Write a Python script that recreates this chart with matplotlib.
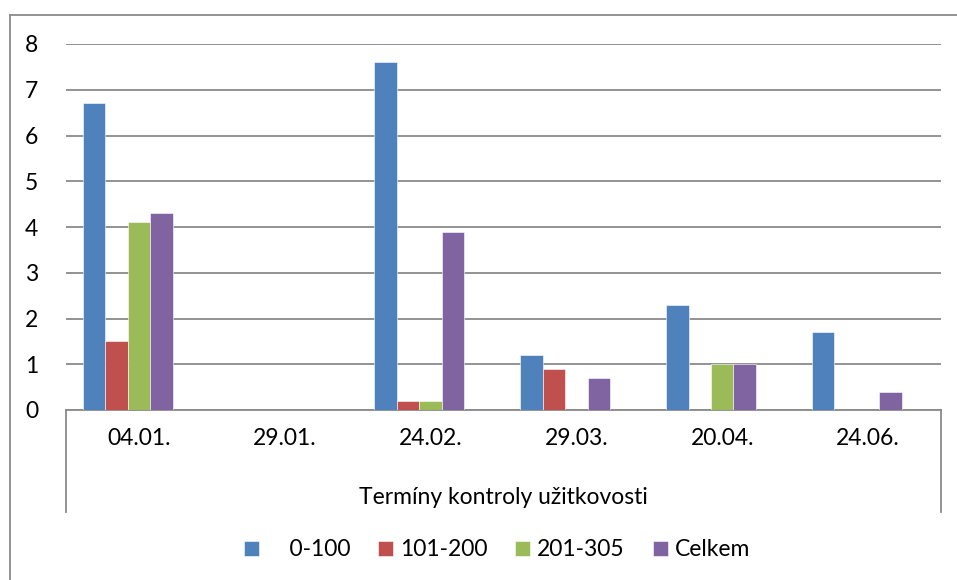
import numpy as np
import matplotlib.pyplot as plt
from matplotlib.lines import Line2D

plt.rcParams['font.family'] = ['Lato', 'DejaVu Sans']

dates = ["04.01.", "29.01.", "24.02.", "29.03.", "20.04.", "24.06."]
series_names = ["0-100", "101-200", "201-305", "Celkem"]
s_0_100 = [6.7, 0, 7.6, 1.2, 2.3, 1.7]
s_101_200 = [1.5, 0, 0.2, 0.9, 0, 0]
s_201_305 = [4.1, 0, 0.2, 0, 1.0, 0]
s_celkem = [4.3, 0, 3.9, 0.7, 1.0, 0.4]
colors = ["#4F81BD", "#C0504D", "#9BBB59", "#8064A2"]
grid_c = "#8a8a8a"

W, H = 957, 580
fig = plt.figure(figsize=(W / 100, H / 100), dpi=100)
ax = fig.add_axes([66 / W, 1 - 410 / H, (941 - 66) / W, (410 - 44) / H])

x = np.arange(len(dates))
w = 1 / 6.5  # 5 slots (one empty series) + 150 % gap
for i, (vals, c, name) in enumerate(zip([s_0_100, s_101_200, s_201_305, s_celkem], colors, series_names)):
    lbl = "    " + name if i == 0 else name
    ax.bar(x + (i - 2) * w, vals, width=w, color=c, label=lbl,
           edgecolor="white", linewidth=0.4, zorder=3)

ax.set_xlim(-0.5, len(dates) - 0.5)
ax.set_ylim(0, 8)
ax.set_yticks(range(0, 9))
ax.yaxis.grid(True, color=grid_c, linewidth=1.3)
ax.set_axisbelow(True)
for s in ["left", "right", "top"]:
    ax.spines[s].set_visible(False)
ax.spines["bottom"].set_color(grid_c)
ax.spines["bottom"].set_linewidth(1.3)
ax.tick_params(axis="y", length=0, pad=20, labelsize=16.5)
ax.tick_params(axis="x", length=0, pad=13, labelsize=16.5)
ax.set_xticks(x)
ax.set_xticklabels(dates)
ax.set_xlabel("Termíny kontroly užitkovosti", fontsize=16.5, labelpad=27)

# category axis box sides
drop = -(512 - 410) / (410 - 44)
for xa in (0, 1):
    ax.plot([xa, xa], [0, drop], transform=ax.transAxes, color=grid_c,
            linewidth=1.3, clip_on=False)

# chart frame (cropped at right and bottom)
fig.add_artist(Line2D([10 / W, 10 / W], [-0.1, 1 - 15 / H], color=grid_c, linewidth=1.3))
fig.add_artist(Line2D([10 / W, 1.1], [1 - 15 / H, 1 - 15 / H], color=grid_c, linewidth=1.3))

fig.legend(loc="center", bbox_to_anchor=(497 / W, 1 - 550 / H), ncol=4, frameon=False,
           fontsize=16.5, handlelength=0.65, handleheight=0.65, handletextpad=0.3,
           columnspacing=1.22)

fig.savefig("out.png", dpi=100)
